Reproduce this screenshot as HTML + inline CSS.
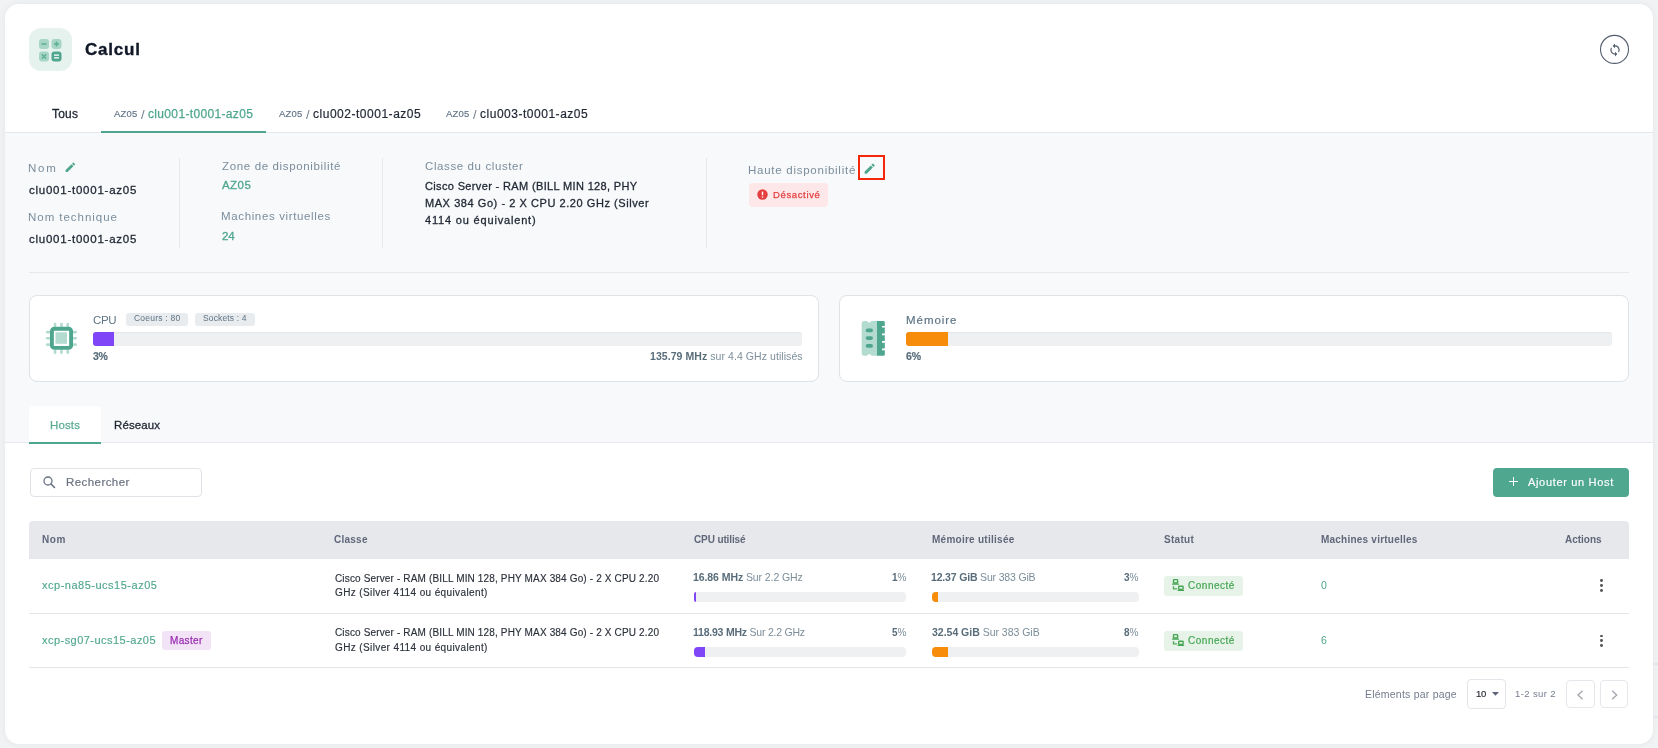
<!DOCTYPE html>
<html><head><meta charset="utf-8"><style>
html,body{margin:0;padding:0;}
body{width:1658px;height:748px;background:#f1f2f4;position:relative;overflow:hidden;font-family:"Liberation Sans",sans-serif;}
.t{position:absolute;line-height:1;white-space:nowrap;will-change:transform;}
.r{position:absolute;}
</style></head><body>
<div class="r" style="left:5px;top:4px;width:1648px;height:740px;background:#fff;border-radius:14px;box-shadow:0 0 6px rgba(0,0,0,0.06);"></div>
<div class="r" style="left:5px;top:133px;width:1648px;height:310px;background:#f8f9fb;"></div>
<div class="r" style="left:5px;top:132px;width:1648px;height:1px;background:#e6e8eb;"></div>
<div class="r" style="left:5px;top:442px;width:1648px;height:1px;background:#e6e8eb;"></div>
<div class="r" style="left:1653px;top:663px;width:5px;height:2px;background:#e4e5e8;"></div>
<div class="r" style="left:1653px;top:716px;width:5px;height:2px;background:#e4e5e8;"></div>
<div class="r" style="left:29px;top:28px;width:43px;height:43px;background:#e5f2ee;border-radius:12px;"></div>
<svg class="r" style="left:38px;top:38px" width="25" height="25" viewBox="0 0 25 25">
<rect x="1" y="1" width="10" height="10" rx="3" fill="#a7d5c6"/>
<rect x="13.5" y="1" width="10" height="10" rx="3" fill="#a7d5c6"/>
<rect x="1" y="13.5" width="10" height="10" rx="3" fill="#a7d5c6"/>
<rect x="13.5" y="13.5" width="10" height="10" rx="3" fill="#4fa68e"/>
<rect x="3.5" y="5.2" width="5" height="1.6" fill="#5fae96"/>
<rect x="16" y="5.2" width="5" height="1.6" fill="#5fae96"/>
<rect x="17.7" y="3.5" width="1.6" height="5" fill="#5fae96"/>
<path d="M3.8 16.3 L8.2 20.7 M8.2 16.3 L3.8 20.7" stroke="#5fae96" stroke-width="1.5"/>
<rect x="16" y="16.4" width="5" height="1.5" fill="#e5f2ee"/>
<rect x="16" y="19.1" width="5" height="1.5" fill="#e5f2ee"/>
</svg>
<div class="t" style="left:85.00px;top:40.81px;font-size:17px;color:#111827;font-weight:700;letter-spacing:0.78px;-webkit-text-stroke:0.35px #111827;">Calcul</div>
<svg class="r" style="left:1599px;top:34px" width="31" height="31" viewBox="0 0 31 31">
<circle cx="15.5" cy="15.4" r="14" fill="none" stroke="#535b6d" stroke-width="1.1"/>
</svg>
<svg class="r" style="left:1607.6px;top:42.6px" width="14" height="14" viewBox="0 0 24 24"><path fill="#535b6d" d="M12 4V1L8 5l4 4V6c3.31 0 6 2.69 6 6 0 1.01-.25 1.97-.7 2.8l1.46 1.46C19.54 15.03 20 13.57 20 12c0-4.42-3.58-8-8-8zm0 14c-3.31 0-6-2.69-6-6 0-1.01.25-1.97.7-2.8L5.24 7.74C4.46 8.97 4 10.43 4 12c0 4.42 3.58 8 8 8v3l4-4-4-4v3z"/></svg>
<div class="t" style="left:52.30px;top:107.84px;font-size:12px;color:#1f2733;font-weight:400;letter-spacing:0.2px;-webkit-text-stroke:0.3px #1f2733;">Tous</div>
<div class="r" style="left:101px;top:131px;width:165px;height:2px;background:#4fa68e;"></div>
<div class="t" style="left:114.20px;top:108.96px;font-size:9.5px;color:#617386;font-weight:400;letter-spacing:0.167px;-webkit-text-stroke:0.15px #617386;">AZ05</div>
<div class="t" style="left:140.8px;top:107.60px;font-size:13px;color:#6f7e8d;font-weight:400;letter-spacing:0px;">/</div>
<div class="t" style="left:148.00px;top:107.84px;font-size:12px;color:#4fa68e;font-weight:400;letter-spacing:0.338px;-webkit-text-stroke:0.25px #4fa68e;">clu001-t0001-az05</div>
<div class="t" style="left:279.00px;top:108.96px;font-size:9.5px;color:#617386;font-weight:400;letter-spacing:0.167px;-webkit-text-stroke:0.15px #617386;">AZ05</div>
<div class="t" style="left:305.8px;top:107.60px;font-size:13px;color:#6f7e8d;font-weight:400;letter-spacing:0px;">/</div>
<div class="t" style="left:312.70px;top:107.84px;font-size:12px;color:#1f2733;font-weight:400;letter-spacing:0.519px;-webkit-text-stroke:0.2px #1f2733;">clu002-t0001-az05</div>
<div class="t" style="left:446.00px;top:108.96px;font-size:9.5px;color:#617386;font-weight:400;letter-spacing:0.167px;-webkit-text-stroke:0.15px #617386;">AZ05</div>
<div class="t" style="left:472.8px;top:107.60px;font-size:13px;color:#6f7e8d;font-weight:400;letter-spacing:0px;">/</div>
<div class="t" style="left:480.00px;top:107.84px;font-size:12px;color:#1f2733;font-weight:400;letter-spacing:0.519px;-webkit-text-stroke:0.2px #1f2733;">clu003-t0001-az05</div>
<div class="t" style="left:28.40px;top:162.67px;font-size:11.5px;color:#7a8d9c;font-weight:400;letter-spacing:1.75px;">Nom</div>
<svg class="r" style="left:64.1px;top:161.3px" width="12.7" height="12.7" viewBox="0 0 24 24"><path d="M3 17.25V21h3.75L17.81 9.94l-3.75-3.75L3 17.25zM20.71 7.04a1 1 0 0 0 0-1.41l-2.34-2.34a1 1 0 0 0-1.41 0l-1.83 1.83 3.75 3.75 1.83-1.83z" fill="#4fa68e"/></svg>
<div class="t" style="left:29.40px;top:185.37px;font-size:11.5px;color:#1f2733;font-weight:400;letter-spacing:0.756px;-webkit-text-stroke:0.3px #1f2733;">clu001-t0001-az05</div>
<div class="t" style="left:28.40px;top:212.47px;font-size:11.5px;color:#7a8d9c;font-weight:400;letter-spacing:0.967px;">Nom technique</div>
<div class="t" style="left:29.40px;top:233.57px;font-size:11.5px;color:#1f2733;font-weight:400;letter-spacing:0.756px;-webkit-text-stroke:0.3px #1f2733;">clu001-t0001-az05</div>
<div class="r" style="left:179px;top:158px;width:1px;height:90px;background:#e6e8eb;"></div>
<div class="t" style="left:221.80px;top:161.27px;font-size:11.5px;color:#7a8d9c;font-weight:400;letter-spacing:0.645px;">Zone de disponibilité</div>
<div class="t" style="left:221.80px;top:180.47px;font-size:11.5px;color:#4fa68e;font-weight:400;letter-spacing:0.433px;-webkit-text-stroke:0.3px #4fa68e;">AZ05</div>
<div class="t" style="left:220.80px;top:211.17px;font-size:11.5px;color:#7a8d9c;font-weight:400;letter-spacing:0.639px;">Machines virtuelles</div>
<div class="t" style="left:221.80px;top:231.17px;font-size:11.5px;color:#4fa68e;font-weight:400;letter-spacing:-0.1px;-webkit-text-stroke:0.3px #4fa68e;">24</div>
<div class="r" style="left:382px;top:158px;width:1px;height:90px;background:#e6e8eb;"></div>
<div class="t" style="left:424.80px;top:160.87px;font-size:11.5px;color:#7a8d9c;font-weight:400;letter-spacing:0.606px;">Classe du cluster</div>
<div class="t" style="left:424.50px;top:180.99px;font-size:11px;color:#1f2733;font-weight:400;letter-spacing:0.353px;-webkit-text-stroke:0.3px #1f2733;">Cisco Server - RAM (BILL MIN 128, PHY</div>
<div class="t" style="left:424.50px;top:198.09px;font-size:11px;color:#1f2733;font-weight:400;letter-spacing:0.559px;-webkit-text-stroke:0.3px #1f2733;">MAX 384 Go) - 2 X CPU 2.20 GHz (Silver</div>
<div class="t" style="left:424.50px;top:215.49px;font-size:11px;color:#1f2733;font-weight:400;letter-spacing:0.822px;-webkit-text-stroke:0.3px #1f2733;">4114 ou équivalent)</div>
<div class="r" style="left:706px;top:158px;width:1px;height:90px;background:#e6e8eb;"></div>
<div class="t" style="left:747.70px;top:164.77px;font-size:11.5px;color:#7a8d9c;font-weight:400;letter-spacing:0.739px;">Haute disponibilité</div>
<div class="r" style="left:858px;top:155px;width:27px;height:25px;box-sizing:border-box;border:2px solid #f5260a;"></div>
<svg class="r" style="left:863.4px;top:161.8px" width="13.3" height="13.3" viewBox="0 0 24 24"><path d="M3 17.25V21h3.75L17.81 9.94l-3.75-3.75L3 17.25zM20.71 7.04a1 1 0 0 0 0-1.41l-2.34-2.34a1 1 0 0 0-1.41 0l-1.83 1.83 3.75 3.75 1.83-1.83z" fill="#4fa68e"/></svg>
<div class="r" style="left:749px;top:183px;width:79px;height:24px;background:#fde7e8;border-radius:4px;"></div>
<svg class="r" style="left:757px;top:189px" width="11" height="11" viewBox="0 0 11 11"><circle cx="5.5" cy="5.5" r="5.2" fill="#e53e3e"/><rect x="4.8" y="2.4" width="1.4" height="3.9" rx="0.6" fill="#fff"/><circle cx="5.5" cy="8" r="0.8" fill="#fff"/></svg>
<div class="t" style="left:772.80px;top:190.06px;font-size:9.5px;color:#e53e3e;font-weight:400;letter-spacing:0.638px;-webkit-text-stroke:0.25px #e53e3e;">Désactivé</div>
<div class="r" style="left:29px;top:272px;width:1600px;height:1px;background:#e6e8eb;"></div>
<div class="r" style="left:29px;top:295px;width:790px;height:87px;box-sizing:border-box;background:#fff;border:1px solid #dfe2e6;border-radius:8px;"></div>
<div class="r" style="left:839px;top:295px;width:790px;height:87px;box-sizing:border-box;background:#fff;border:1px solid #dfe2e6;border-radius:8px;"></div>
<svg class="r" style="left:45px;top:322px" width="33" height="33" viewBox="0 0 33 33">
<g fill="#b3dbcf">
<rect x="8.7" y="0.8" width="2.7" height="4.5" rx="1.3"/><rect x="15.1" y="0.8" width="2.7" height="4.5" rx="1.3"/><rect x="21.4" y="0.8" width="2.7" height="4.5" rx="1.3"/>
<rect x="8.7" y="27.5" width="2.7" height="4.5" rx="1.3"/><rect x="15.1" y="27.5" width="2.7" height="4.5" rx="1.3"/><rect x="21.4" y="27.5" width="2.7" height="4.5" rx="1.3"/>
<rect x="0.8" y="8.7" width="4.5" height="2.7" rx="1.3"/><rect x="0.8" y="14.9" width="4.5" height="2.7" rx="1.3"/><rect x="0.8" y="21.2" width="4.5" height="2.7" rx="1.3"/>
<rect x="27.5" y="8.7" width="4.5" height="2.7" rx="1.3"/><rect x="27.5" y="14.9" width="4.5" height="2.7" rx="1.3"/><rect x="27.5" y="21.2" width="4.5" height="2.7" rx="1.3"/>
</g>
<rect x="6.9" y="6.7" width="19.2" height="19.2" rx="2.5" fill="none" stroke="#4fa68e" stroke-width="3.9"/>
<rect x="10.5" y="10.3" width="11.5" height="11.5" fill="#b3dbcf"/>
</svg>
<div class="t" style="left:93.10px;top:314.77px;font-size:11.5px;color:#5f7686;font-weight:400;letter-spacing:-0.4px;">CPU</div>
<div class="r" style="left:126.3px;top:313px;width:61.5px;height:12.6px;background:#e8ecef;border-radius:3px;"></div>
<div class="t" style="left:134.00px;top:313.90px;font-size:8.5px;color:#5f7382;font-weight:400;letter-spacing:0.22px;">Coeurs : 80</div>
<div class="r" style="left:195.2px;top:313px;width:59.4px;height:12.6px;background:#e8ecef;border-radius:3px;"></div>
<div class="t" style="left:202.80px;top:313.90px;font-size:8.5px;color:#5f7382;font-weight:400;letter-spacing:0.14px;">Sockets : 4</div>
<div class="r" style="left:93px;top:332px;width:709px;height:14px;background:#eff0f1;border-radius:3px;box-shadow:inset 0 1px 1px rgba(0,0,0,0.04);"></div>
<div class="r" style="left:93px;top:332px;width:21px;height:14px;background:#7f46f7;border-radius:3px 0 0 3px;"></div>
<div class="t" style="left:93.00px;top:350.71px;font-size:10.5px;color:#5a6e7c;font-weight:700;letter-spacing:-0.4px;-webkit-text-stroke:0.2px #5a6e7c;">3%</div>
<div class="t" style="left:650.00px;top:350.81px;font-size:10.5px;color:#7d8f9b;font-weight:400;letter-spacing:0.067px;"><b style="color:#586c7a">135.79 MHz</b> sur 4.4 GHz utilisés</div>
<svg class="r" style="left:861px;top:320px" width="25" height="37" viewBox="0 0 25 37">
<path d="M0.7 3.5 Q0.7 1 3.2 1 L6 1 Q8.3 4.2 10.5 1 L16.2 1 L16.2 35.7 L10.5 35.7 Q8.3 32.5 6 35.7 L3.2 35.7 Q0.7 35.7 0.7 33.2 Z" fill="#b3dbcf"/>
<path d="M16 1 L22.5 1 Q23.8 1 23.8 2.3 L23.8 6 L21 6 L21 7.6 L23.8 7.6 L23.8 13.6 L21 13.6 L21 15.2 L23.8 15.2 L23.8 21.1 L21 21.1 L21 22.7 L23.8 22.7 L23.8 28.6 L21 28.6 L21 30.2 L23.8 30.2 L23.8 34.4 Q23.8 35.7 22.5 35.7 L16 35.7 Z" fill="#4fa68e"/>
<rect x="4.7" y="8.6" width="7.3" height="3.6" rx="1.8" fill="#4fa68e"/>
<rect x="4.7" y="16.3" width="7.3" height="3.6" rx="1.8" fill="#4fa68e"/>
<rect x="4.7" y="24.1" width="7.3" height="3.6" rx="1.8" fill="#4fa68e"/>
</svg>
<div class="t" style="left:906.40px;top:314.97px;font-size:11.5px;color:#5f7686;font-weight:400;letter-spacing:0.95px;-webkit-text-stroke:0.2px #5f7686;">Mémoire</div>
<div class="r" style="left:906px;top:332px;width:706px;height:14px;background:#eff0f1;border-radius:3px;box-shadow:inset 0 1px 1px rgba(0,0,0,0.04);"></div>
<div class="r" style="left:906px;top:332px;width:42px;height:14px;background:#f78c0b;border-radius:3px 0 0 3px;"></div>
<div class="t" style="left:906.20px;top:350.71px;font-size:10.5px;color:#5a6e7c;font-weight:700;letter-spacing:0.0px;-webkit-text-stroke:0.2px #5a6e7c;">6%</div>
<div class="r" style="left:29px;top:406px;width:72px;height:37px;background:#fff;border-radius:4px 4px 0 0;"></div>
<div class="r" style="left:29px;top:442px;width:72px;height:2px;background:#4fa68e;"></div>
<div class="t" style="left:49.70px;top:420.07px;font-size:11.5px;color:#5bab94;font-weight:400;letter-spacing:0.125px;-webkit-text-stroke:0.25px #5bab94;">Hosts</div>
<div class="t" style="left:114.30px;top:420.07px;font-size:11.5px;color:#1f2733;font-weight:400;letter-spacing:0.117px;-webkit-text-stroke:0.3px #1f2733;">Réseaux</div>
<div class="r" style="left:29.5px;top:468px;width:172px;height:28.5px;box-sizing:border-box;border:1px solid #dfe2e6;border-radius:4px;background:#fff;"></div>
<svg class="r" style="left:42px;top:475px" width="14" height="14" viewBox="0 0 14 14"><circle cx="6" cy="6" r="4" fill="none" stroke="#687082" stroke-width="1.3"/><path d="M9 9 L12.5 12.5" stroke="#687082" stroke-width="1.6" stroke-linecap="round"/></svg>
<div class="t" style="left:65.50px;top:477.37px;font-size:11.5px;color:#6b7280;font-weight:400;letter-spacing:0.433px;-webkit-text-stroke:0.2px #6b7280;">Rechercher</div>
<div class="r" style="left:1493px;top:468px;width:136px;height:29px;background:#50a790;border-radius:4px;"></div>
<div class="r" style="left:1508.8px;top:481px;width:9px;height:1.4px;background:#fff;"></div>
<div class="r" style="left:1512.6px;top:477.2px;width:1.4px;height:9px;background:#fff;"></div>
<div class="t" style="left:1527.60px;top:476.59px;font-size:11px;color:#fff;font-weight:400;letter-spacing:0.671px;-webkit-text-stroke:0.15px #fff;">Ajouter un Host</div>
<div class="r" style="left:29px;top:521px;width:1600px;height:38px;background:#e7e8ec;border-radius:4px 4px 0 0;"></div>
<div class="t" style="left:42.10px;top:534.83px;font-size:10px;color:#5f6779;font-weight:700;letter-spacing:0.55px;">Nom</div>
<div class="t" style="left:334.20px;top:534.83px;font-size:10px;color:#5f6779;font-weight:700;letter-spacing:0.24px;">Classe</div>
<div class="t" style="left:694.40px;top:534.83px;font-size:10px;color:#5f6779;font-weight:700;letter-spacing:-0.12px;">CPU utilisé</div>
<div class="t" style="left:931.90px;top:534.83px;font-size:10px;color:#5f6779;font-weight:700;letter-spacing:0.26px;">Mémoire utilisée</div>
<div class="t" style="left:1163.90px;top:534.83px;font-size:10px;color:#5f6779;font-weight:700;letter-spacing:0.28px;">Statut</div>
<div class="t" style="left:1320.80px;top:534.83px;font-size:10px;color:#5f6779;font-weight:700;letter-spacing:0.222px;">Machines virtuelles</div>
<div class="t" style="left:1564.60px;top:534.83px;font-size:10px;color:#5f6779;font-weight:700;letter-spacing:-0.017px;">Actions</div>
<div class="r" style="left:29px;top:613px;width:1600px;height:1px;background:#e3e5e8;"></div>
<div class="r" style="left:29px;top:667px;width:1600px;height:1px;background:#e3e5e8;"></div>
<div class="t" style="left:42.10px;top:579.89px;font-size:11px;color:#4fa68e;font-weight:400;letter-spacing:0.506px;-webkit-text-stroke:0.15px #4fa68e;">xcp-na85-ucs15-az05</div>
<div class="t" style="left:334.60px;top:573.53px;font-size:10px;color:#2b303a;font-weight:400;letter-spacing:0.149px;-webkit-text-stroke:0.15px #2b303a;">Cisco Server - RAM (BILL MIN 128, PHY MAX 384 Go) - 2 X CPU 2.20</div>
<div class="t" style="left:334.60px;top:588.13px;font-size:10px;color:#2b303a;font-weight:400;letter-spacing:0.38px;-webkit-text-stroke:0.15px #2b303a;">GHz (Silver 4114 ou équivalent)</div>
<div class="t" style="left:693.30px;top:572.11px;font-size:10.5px;color:#7b8d99;font-weight:400;letter-spacing:-0.08px;"><b style="color:#586c7a">16.86 MHz</b> Sur 2.2 GHz</div>
<div class="t" style="right:752px;top:572.53px;font-size:10px;color:#7b8d99;font-weight:400;letter-spacing:0px;"><b style="color:#586c7a">1</b>%</div>
<div class="r" style="left:694px;top:592px;width:212px;height:10px;background:#eff0f1;border-radius:4px;"></div>
<div class="r" style="left:694px;top:592px;width:1.5px;height:10px;background:#7f46f7;border-radius:4px 0 0 4px;"></div>
<div class="t" style="left:930.90px;top:572.11px;font-size:10.5px;color:#7b8d99;font-weight:400;letter-spacing:-0.17px;"><b style="color:#586c7a">12.37 GiB</b> Sur 383 GiB</div>
<div class="t" style="right:519.5px;top:572.53px;font-size:10px;color:#7b8d99;font-weight:400;letter-spacing:0px;"><b style="color:#586c7a">3</b>%</div>
<div class="r" style="left:931.5px;top:592px;width:207px;height:10px;background:#eff0f1;border-radius:4px;"></div>
<div class="r" style="left:931.5px;top:592px;width:6px;height:10px;background:#f78c0b;border-radius:4px 0 0 4px;"></div>
<div class="r" style="left:1164px;top:576px;width:79px;height:20px;background:#e7f3e8;border-radius:3px;"></div>
<svg class="r" style="left:1168px;top:576px" width="20" height="20" viewBox="0 0 20 20">
<rect x="5.5" y="3.6" width="4.1" height="3.4" rx="0.6" fill="none" stroke="#44a552" stroke-width="1.4"/>
<rect x="4" y="7.6" width="7" height="1.2" rx="0.5" fill="#44a552"/>
<path d="M5.5 10.2 V12.9 H9.2" fill="none" stroke="#52ab5e" stroke-width="1.4"/>
<rect x="10.7" y="10.2" width="4.4" height="3.2" rx="0.6" fill="none" stroke="#44a552" stroke-width="1.4"/>
<rect x="9.5" y="13.9" width="6.7" height="1.2" rx="0.5" fill="#44a552"/>
</svg>
<div class="t" style="left:1188.00px;top:580.53px;font-size:10px;color:#44a552;font-weight:400;letter-spacing:0.514px;-webkit-text-stroke:0.2px #44a552;">Connecté</div>
<div class="t" style="left:1321.2px;top:580.11px;font-size:10.5px;color:#4fa68e;font-weight:400;letter-spacing:0px;">0</div>
<div class="r" style="left:1600.4px;top:579.4px;width:2.8px;height:2.8px;background:#555659;border-radius:50%;"></div>
<div class="r" style="left:1600.4px;top:584.1999999999999px;width:2.8px;height:2.8px;background:#555659;border-radius:50%;"></div>
<div class="r" style="left:1600.4px;top:589.0px;width:2.8px;height:2.8px;background:#555659;border-radius:50%;"></div>
<div class="t" style="left:42.10px;top:635.09px;font-size:11px;color:#4fa68e;font-weight:400;letter-spacing:0.467px;-webkit-text-stroke:0.15px #4fa68e;">xcp-sg07-ucs15-az05</div>
<div class="r" style="left:162px;top:631.2px;width:48.7px;height:18.6px;background:#f3e3f7;border-radius:3px;"></div>
<div class="t" style="left:169.90px;top:636.03px;font-size:10px;color:#9a2fb4;font-weight:400;letter-spacing:0.34px;-webkit-text-stroke:0.25px #9a2fb4;">Master</div>
<div class="t" style="left:334.60px;top:627.94px;font-size:10px;color:#2b303a;font-weight:400;letter-spacing:0.149px;-webkit-text-stroke:0.15px #2b303a;">Cisco Server - RAM (BILL MIN 128, PHY MAX 384 Go) - 2 X CPU 2.20</div>
<div class="t" style="left:334.60px;top:642.54px;font-size:10px;color:#2b303a;font-weight:400;letter-spacing:0.38px;-webkit-text-stroke:0.15px #2b303a;">GHz (Silver 4114 ou équivalent)</div>
<div class="t" style="left:693.30px;top:627.31px;font-size:10.5px;color:#7b8d99;font-weight:400;letter-spacing:-0.219px;"><b style="color:#586c7a">118.93 MHz</b> Sur 2.2 GHz</div>
<div class="t" style="right:752px;top:627.74px;font-size:10px;color:#7b8d99;font-weight:400;letter-spacing:0px;"><b style="color:#586c7a">5</b>%</div>
<div class="r" style="left:694px;top:647.2px;width:212px;height:10px;background:#eff0f1;border-radius:4px;"></div>
<div class="r" style="left:694px;top:647.2px;width:11px;height:10px;background:#7f46f7;border-radius:4px 0 0 4px;"></div>
<div class="t" style="left:931.90px;top:627.31px;font-size:10.5px;color:#7b8d99;font-weight:400;letter-spacing:-0.015px;"><b style="color:#586c7a">32.54 GiB</b> Sur 383 GiB</div>
<div class="t" style="right:519.5px;top:627.74px;font-size:10px;color:#7b8d99;font-weight:400;letter-spacing:0px;"><b style="color:#586c7a">8</b>%</div>
<div class="r" style="left:931.5px;top:647.2px;width:207px;height:10px;background:#eff0f1;border-radius:4px;"></div>
<div class="r" style="left:931.5px;top:647.2px;width:16px;height:10px;background:#f78c0b;border-radius:4px 0 0 4px;"></div>
<div class="r" style="left:1164px;top:631.2px;width:79px;height:20px;background:#e7f3e8;border-radius:3px;"></div>
<svg class="r" style="left:1168px;top:631.2px" width="20" height="20" viewBox="0 0 20 20">
<rect x="5.5" y="3.6" width="4.1" height="3.4" rx="0.6" fill="none" stroke="#44a552" stroke-width="1.4"/>
<rect x="4" y="7.6" width="7" height="1.2" rx="0.5" fill="#44a552"/>
<path d="M5.5 10.2 V12.9 H9.2" fill="none" stroke="#52ab5e" stroke-width="1.4"/>
<rect x="10.7" y="10.2" width="4.4" height="3.2" rx="0.6" fill="none" stroke="#44a552" stroke-width="1.4"/>
<rect x="9.5" y="13.9" width="6.7" height="1.2" rx="0.5" fill="#44a552"/>
</svg>
<div class="t" style="left:1188.00px;top:635.74px;font-size:10px;color:#44a552;font-weight:400;letter-spacing:0.514px;-webkit-text-stroke:0.2px #44a552;">Connecté</div>
<div class="t" style="left:1321.2px;top:635.31px;font-size:10.5px;color:#4fa68e;font-weight:400;letter-spacing:0px;">6</div>
<div class="r" style="left:1600.4px;top:634.6px;width:2.8px;height:2.8px;background:#555659;border-radius:50%;"></div>
<div class="r" style="left:1600.4px;top:639.4px;width:2.8px;height:2.8px;background:#555659;border-radius:50%;"></div>
<div class="r" style="left:1600.4px;top:644.2px;width:2.8px;height:2.8px;background:#555659;border-radius:50%;"></div>
<div class="t" style="left:1364.90px;top:688.71px;font-size:10.5px;color:#737b8c;font-weight:400;letter-spacing:0.219px;">Eléments par page</div>
<div class="r" style="left:1467.4px;top:679.3px;width:38.2px;height:30.2px;box-sizing:border-box;border:1px solid #e3e5ea;border-radius:4px;background:#fff;"></div>
<div class="t" style="left:1476px;top:688.96px;font-size:9.5px;color:#2a2f3a;font-weight:400;letter-spacing:-0.3px;-webkit-text-stroke:0.2px #2a2f3a;">10</div>
<svg class="r" style="left:1492px;top:692px" width="7" height="4" viewBox="0 0 7 4"><path d="M0 0 L7 0 L3.5 3.8 Z" fill="#5b6275"/></svg>
<div class="t" style="left:1515.20px;top:689.16px;font-size:9.5px;color:#737b8c;font-weight:400;letter-spacing:0.387px;">1-2 sur 2</div>
<div class="r" style="left:1566.4px;top:680.2px;width:28.2px;height:28.2px;box-sizing:border-box;border:1px solid #e5e7ec;border-radius:4px;background:#fff;"></div>
<div class="r" style="left:1600.3px;top:680.2px;width:28.2px;height:28.2px;box-sizing:border-box;border:1px solid #e5e7ec;border-radius:4px;background:#fff;"></div>
<svg class="r" style="left:1576px;top:690px" width="8" height="10" viewBox="0 0 8 10"><path d="M6.5 0.8 L2 5 L6.5 9.2" fill="none" stroke="#a0a4ab" stroke-width="1.3"/></svg>
<svg class="r" style="left:1611px;top:690px" width="8" height="10" viewBox="0 0 8 10"><path d="M1.2 0.8 L5.7 5 L1.2 9.2" fill="none" stroke="#a0a4ab" stroke-width="1.3"/></svg>
</body></html>
